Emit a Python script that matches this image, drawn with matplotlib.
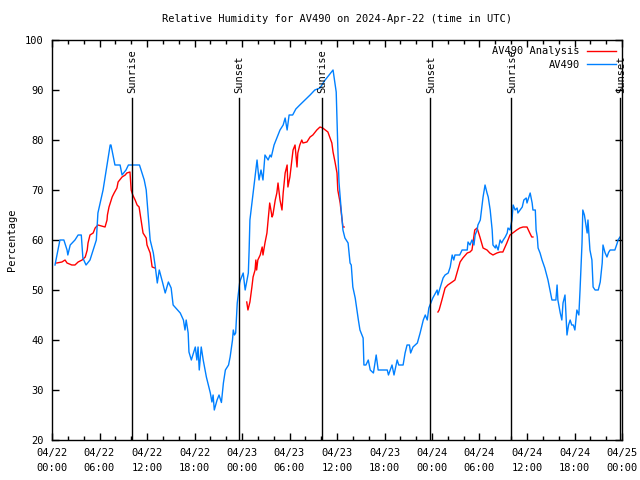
import numpy as np
import matplotlib
matplotlib.use("Agg")
import matplotlib.pyplot as plt
from matplotlib.ticker import MultipleLocator

plt.rcParams['font.family'] = ['DejaVu Sans Mono']

# hours since 2024-04-22 00:00 UTC
obs_hours = [0.38, 1.0, 1.5, 1.9, 2.0, 2.3, 2.9, 3.3, 3.7, 3.9, 4.3, 4.8, 5.6, 5.8, 6.45, 6.95,
             7.35, 7.45, 7.95, 8.6, 8.85, 9.35, 9.65, 11.05, 11.25, 11.65, 11.9, 12.15, 12.4, 12.8,
             13.05, 13.3, 13.55, 13.95, 14.3, 14.7, 15.05, 15.3, 16.2, 16.6, 16.8, 16.95, 17.2, 17.3,
             17.6, 18.1, 18.3, 18.45, 18.6, 18.85, 19.1, 19.5, 20.0, 20.2, 20.35, 20.5, 20.85, 21.1,
             21.4, 21.65, 21.9, 22.3, 22.5, 22.8, 22.9, 23.05, 23.2, 23.4, 23.7, 23.8, 24.15, 24.4,
             24.8, 24.9, 25.0, 25.5, 25.9, 26.15, 26.4, 26.65, 26.9, 27.3, 27.55, 27.7, 28.05, 28.8,
             29.2, 29.45, 29.7, 29.95, 30.4, 30.8, 31.3, 31.95, 32.6, 33.2, 33.85, 34.5, 35.5, 35.9,
             36.1, 36.25, 36.5, 36.75, 37.0, 37.4, 37.65, 37.8, 38.0, 38.3, 38.7, 38.9, 39.3, 39.4,
             39.65, 39.95, 40.2, 40.6, 40.95, 41.2, 42.35, 42.5, 42.95, 43.2, 43.6, 43.8, 44.35, 44.6,
             44.85, 45.15, 45.3, 45.6, 46.15, 46.5, 46.9, 47.15, 47.4, 47.6, 48.1, 48.65, 48.75, 49.05,
             49.4, 49.65, 50.05, 50.3, 50.55, 50.75, 50.9, 51.5, 51.8, 52.45, 52.55, 52.8, 53.05, 53.3,
             53.45, 53.7, 53.8, 54.1, 54.45, 54.7, 54.95, 55.1, 55.35, 55.6, 55.7, 56.0, 56.1, 56.35,
             56.6, 56.8, 57.0, 57.25, 57.5, 57.6, 57.85, 58.1, 58.25, 58.5, 58.75, 58.85, 59.4, 59.6,
             59.9, 60.0, 60.4, 60.65, 60.75, 61.05, 61.15, 61.3, 61.4, 61.65, 61.9, 62.25, 62.65, 62.9,
             63.15, 63.65, 63.8, 63.9, 64.2, 64.4, 64.55, 64.8, 65.05, 65.25, 65.45, 65.65, 65.85, 66.05,
             66.3, 66.55, 66.7, 66.95, 67.05, 67.25, 67.35, 67.6, 67.7, 67.95, 68.2, 68.35, 68.6, 69.0,
             69.25, 69.5, 69.6, 69.85, 70.1, 70.3, 70.5, 71.1, 71.4, 71.5, 71.75]
obs_rh = [55, 60, 60, 58, 57, 59, 60, 61, 61, 56.4, 55, 56, 60, 65.4, 70, 75,
          79, 79, 75, 75, 73, 74, 75, 75, 74, 72, 70, 65, 60, 57.4,
          54.6, 51.4, 54, 51.6, 49.4, 51.6, 50.4, 47, 45.4, 44, 42, 44, 41.4, 37.6,
          36, 38.6, 36, 38.6, 34, 38.6, 36, 32.6, 29.4, 27.6, 29, 26, 28, 29,
          27.5, 31.4, 34, 35, 36.6, 40, 42, 41, 41.4, 47.4, 51.4, 52, 53.4, 50,
          53.4, 58, 64, 70.6, 76, 72, 74, 72, 77, 76, 77, 76.6, 79, 82,
          83, 84.4, 82, 85, 85, 86.2, 87, 88, 89, 90, 90.4, 92, 94, 89.6,
          78.6, 71.6, 66.6, 62, 60.4, 59.4, 55.4, 55, 50.6, 48.4, 44, 42, 40.4, 35,
          35, 36, 34, 33.4, 37, 34, 34, 33, 35, 33, 36, 35, 35, 37.4,
          39, 39, 37.4, 38.6, 39.4, 41.4, 44, 45, 44, 46.4, 48.4, 50, 49, 50.6,
          52.4, 53, 53.4, 54.6, 57, 56, 57, 57, 58, 58, 59.6, 59, 60, 59,
          61, 62, 63, 64, 68.6, 71, 69.4, 68.6, 66, 62, 59, 58.4, 59, 58,
          60, 59.4, 60, 60.6, 61.4, 62.4, 62, 64, 67, 66, 66.4, 65.4, 66.6, 68,
          68.4, 67.4, 69.4, 67.4, 66, 66, 62, 60.6, 58.4, 57.4, 56, 54.4, 52, 50,
          48, 48, 51, 48, 45.4, 44, 47.4, 49, 41, 43, 44, 43, 43, 42,
          46, 45, 50, 59.4, 66, 65, 64, 61.4, 64, 58, 56, 50.6, 50, 50,
          51.6, 55.4, 59, 57.5, 56.6, 57.5, 58, 58, 59.4, 60, 60.6]

# analysis series, three separate runs (nan = gap)
ana_hours = [0.6, 1.25, 1.65, 1.9, 2.5, 2.9, 3.3, 3.8, 4.2, 4.45, 4.55, 4.8, 5.2, 5.45, 5.8, 6.7,
             6.95, 7.0, 7.2, 7.6, 7.85, 8.2, 8.35, 8.85, 9.25, 9.45, 9.85, 10.0, 10.2, 10.5, 10.75,
             11.0, 11.25, 11.5, 11.9, 12.0, 12.4, 12.65, 13.0,
             np.nan,
             24.6, 24.75, 25.0, 25.25, 25.4, 25.65, 25.75, 25.85, 26.0, 26.3, 26.55, 26.65, 26.9,
             27.15, 27.3, 27.5, 27.8, 27.9, 28.2, 28.4, 28.55, 28.8, 29.05, 29.2, 29.45, 29.7, 29.8,
             30.05, 30.3, 30.45, 30.7, 30.95, 31.05, 31.3, 31.55, 31.7, 32.2, 32.6, 32.95, 33.45,
             33.85, 34.2, 34.85, 35.35, 35.5, 35.75, 36.0, 36.1, 36.4, 36.6, 36.75, 36.9,
             np.nan,
             48.75, 48.9, 49.25, 49.65, 50.0, 50.55, 50.9, 51.15, 51.55, 51.9, 52.45, 52.8, 53.05,
             53.4, 53.7, 54.05, 54.45, 54.95, 55.3, 55.7, 56.2, 56.6, 56.95, 57.45, 57.85, 58.2,
             58.7, 59.1, 59.5, 60.0, 60.35, 60.6, 60.75]
ana_rh = [55.4, 55.6, 56, 55.4, 55, 55, 55.6, 56, 56.6, 58, 59.4, 61, 61.4, 62.4, 63, 62.6,
          64, 65, 66.6, 68.6, 69.4, 70.4, 71.6, 72.6, 73, 73.4, 73.6, 70, 69, 68, 67,
          66.6, 64, 61.4, 60.4, 59, 57.4, 54.6, 54.4,
          np.nan,
          47.6, 46, 47.6, 50.6, 52.6, 54, 56, 54, 56, 57, 58.6, 57, 59.4,
          61.4, 64, 67.4, 64.6, 65, 68, 69.4, 71.4, 68, 66, 69.4, 73.4, 75, 70.6,
          72.6, 76, 78, 79, 74.6, 77.4, 79, 80, 79.4, 79.6, 80.6, 81, 82,
          82.6, 82.4, 81.6, 79.4, 77.6, 75.6, 73.4, 70, 67.4, 64.6, 62.6, 62.6,
          np.nan,
          45.6, 46, 48, 50.4, 51, 51.6, 52, 53.4, 55.6, 56.4, 57.4, 57.6, 58,
          62, 62.4, 60.6, 58.4, 58, 57.4, 57, 57.4, 57.6, 57.6, 59.4, 61, 61.4,
          62, 62.4, 62.6, 62.6, 61.4, 60.6, 60.6]

sun_hours = [10.1, 23.6, 34.1, 47.75, 58.0, 71.75]
sun_labels = ['Sunrise', 'Sunset', 'Sunrise', 'Sunset', 'Sunrise', 'Sunset']

tick_hours = list(range(0, 73, 6))
tick_labels = ['04/22\n00:00', '04/22\n06:00', '04/22\n12:00', '04/22\n18:00',
               '04/23\n00:00', '04/23\n06:00', '04/23\n12:00', '04/23\n18:00',
               '04/24\n00:00', '04/24\n06:00', '04/24\n12:00', '04/24\n18:00',
               '04/25\n00:00']

fs = 7.5
fig = plt.figure(figsize=(6.4, 4.8), dpi=100)
ax = fig.add_axes([52 / 640, 40 / 480, 570 / 640, 400 / 480])

ax.plot(ana_hours, ana_rh, color='#ff0000', lw=1, label='AV490 Analysis')
ax.plot(obs_hours, obs_rh, color='#0080ff', lw=1, label='AV490')

for h, lab in zip(sun_hours, sun_labels):
    ax.plot([h, h], [20, 88.4], color='black', lw=1)
    ax.text(h + 0.1, 89.4, lab, rotation=90, ha='center', va='bottom', fontsize=fs)

ax.set_xlim(0, 72)
ax.set_ylim(20, 100)
ax.set_xticks(tick_hours)
ax.set_xticklabels(tick_labels, fontsize=fs, linespacing=1.55)
ax.xaxis.set_minor_locator(MultipleLocator(2))
ax.yaxis.set_major_locator(MultipleLocator(10))
ax.tick_params(axis='y', labelsize=fs, pad=6)
ax.tick_params(axis='x', pad=6)
ax.tick_params(which='major', direction='in', top=True, right=True, length=5, width=1)
ax.tick_params(which='minor', direction='in', top=True, right=False, length=3, width=1)
for s in ax.spines.values():
    s.set_linewidth(1)

ax.set_ylabel('Percentage', fontsize=fs, labelpad=6)
ax.set_title('Relative Humidity for AV490 on 2024-Apr-22 (time in UTC)', fontsize=fs, pad=13)

ax.legend(loc='upper right', frameon=False, markerfirst=False, fontsize=fs,
          handlelength=2.8, handletextpad=0.65, labelspacing=0.35,
          borderaxespad=0.3, borderpad=0.3)

fig.savefig('out.png', dpi=100)
